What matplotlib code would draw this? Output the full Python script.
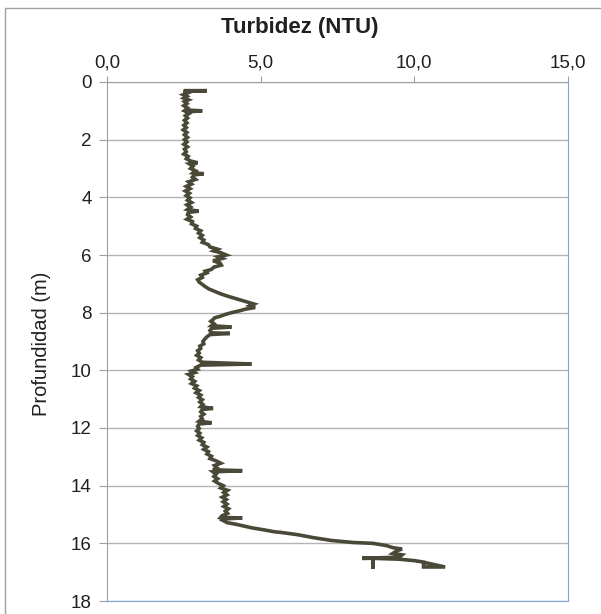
import matplotlib
matplotlib.use("Agg")
import matplotlib.pyplot as plt
from matplotlib.ticker import FuncFormatter
from matplotlib.patches import Rectangle

# perfil de turbidez (profundidad en m, turbidez en NTU)
profundidad = [0.30, 0.30, 0.33, 0.38, 0.44, 0.50, 0.56, 0.62, 0.68, 0.75, 0.82, 0.90, 0.97, 1.00,
               1.04, 1.10, 1.17, 1.25, 1.33, 1.42, 1.50, 1.58, 1.66, 1.75, 1.83, 1.92, 2.00, 2.08,
               2.16, 2.25, 2.33, 2.42, 2.50, 2.58, 2.66, 2.74, 2.80, 2.84, 2.92, 3.00, 3.08, 3.15,
               3.18, 3.22, 3.30, 3.38, 3.46, 3.54, 3.62, 3.70, 3.78, 3.86, 3.94, 4.02, 4.10, 4.18,
               4.26, 4.34, 4.42, 4.48, 4.52, 4.60, 4.68, 4.76, 4.84, 4.92, 5.00, 5.08, 5.16, 5.24,
               5.32, 5.40, 5.48, 5.56, 5.64, 5.72, 5.80, 5.86, 5.92, 6.00, 6.06, 6.12, 6.20, 6.28,
               6.35, 6.42, 6.50, 6.56, 6.62, 6.70, 6.78, 6.86, 6.94, 7.02, 7.10, 7.18, 7.26, 7.34,
               7.42, 7.50, 7.58, 7.64, 7.70, 7.76, 7.82, 7.88, 7.94, 8.00, 8.06, 8.12, 8.18, 8.24,
               8.30, 8.38, 8.45, 8.50, 8.54, 8.62, 8.70, 8.72, 8.76, 8.84, 8.92, 9.00, 9.08, 9.16,
               9.24, 9.32, 9.40, 9.48, 9.56, 9.64, 9.72, 9.78, 9.82, 9.90, 9.96, 10.02, 10.08, 10.14,
               10.22, 10.30, 10.38, 10.46, 10.54, 10.62, 10.70, 10.78, 10.86, 10.94, 11.02, 11.10,
               11.18, 11.26, 11.32, 11.36, 11.44, 11.52, 11.60, 11.68, 11.76, 11.82, 11.86, 11.94,
               12.02, 12.10, 12.18, 12.26, 12.34, 12.42, 12.50, 12.58, 12.66, 12.74, 12.82, 12.90,
               12.98, 13.06, 13.14, 13.22, 13.30, 13.38, 13.45, 13.48, 13.52, 13.60, 13.68, 13.76,
               13.84, 13.92, 14.00, 14.08, 14.16, 14.24, 14.32, 14.40, 14.48, 14.56, 14.64, 14.72,
               14.80, 14.88, 14.96, 15.04, 15.10, 15.12, 15.16, 15.22, 15.28, 15.34, 15.40, 15.46,
               15.55, 15.60, 15.62, 15.65, 15.70, 15.80, 15.90, 15.97, 16.00, 16.08, 16.15, 16.20,
               16.25, 16.35, 16.40, 16.48, 16.52, 16.52, 16.88, 16.52, 16.55, 16.60, 16.65, 16.82,
               16.82, 16.68]
turbidez = [2.55, 3.25, 2.50, 2.62, 2.48, 2.60, 2.50, 2.65, 2.52, 2.60, 2.50, 2.62, 2.55, 3.10,
            2.58, 2.66, 2.55, 2.62, 2.52, 2.60, 2.50, 2.58, 2.48, 2.60, 2.52, 2.62, 2.52, 2.60,
            2.50, 2.62, 2.52, 2.58, 2.50, 2.64, 2.58, 2.72, 2.95, 2.68, 2.80, 2.72, 2.88, 2.80,
            3.15, 2.85, 2.78, 2.88, 2.65, 2.75, 2.58, 2.70, 2.55, 2.68, 2.58, 2.70, 2.62, 2.75,
            2.60, 2.72, 2.62, 2.98, 2.65, 2.62, 2.72, 2.60, 2.78, 2.75, 2.92, 2.88, 3.05, 2.98,
            3.10, 3.02, 3.15, 3.10, 3.30, 3.35, 3.60, 3.48, 3.70, 3.88, 3.62, 3.75, 3.45, 3.68,
            3.72, 3.48, 3.40, 3.20, 3.25, 3.05, 3.10, 2.95, 3.00, 3.10, 3.20, 3.32, 3.50, 3.68,
            3.90, 4.15, 4.40, 4.60, 4.78, 4.65, 4.82, 4.50, 4.30, 4.05, 3.85, 3.70, 3.50, 3.45,
            3.38, 3.48, 3.40, 4.05, 3.42, 3.35, 3.40, 4.00, 3.35, 3.25, 3.18, 3.12, 3.15, 3.02,
            3.05, 2.95, 3.00, 2.92, 3.05, 2.98, 3.10, 4.70, 3.05, 2.90, 2.95, 2.75, 2.85, 2.65,
            2.78, 2.72, 2.85, 2.75, 2.92, 2.85, 3.00, 2.90, 3.05, 2.98, 3.10, 3.02,
            3.12, 3.05, 3.45, 3.10, 3.05, 3.15, 3.05, 3.10, 3.00, 3.40, 3.00, 2.95,
            3.00, 2.92, 3.02, 2.95, 3.08, 3.00, 3.15, 3.10, 3.25, 3.15, 3.30, 3.25,
            3.40, 3.35, 3.55, 3.70, 3.50, 3.58, 3.45, 4.40, 3.45, 3.55, 3.48, 3.60,
            3.50, 3.62, 3.78, 3.70, 3.92, 3.80, 3.90, 3.75, 3.88, 3.78, 3.90, 3.80,
            3.95, 3.85, 3.92, 3.75, 3.70, 4.40, 3.68, 3.80, 3.90, 4.20, 4.45, 4.70,
            5.20, 5.45, 5.65, 5.85, 6.20, 6.70, 7.30, 8.00, 8.65, 9.10, 9.30, 9.60,
            9.45, 9.30, 9.60, 9.50, 8.30, 8.65, 8.65, 8.65, 9.50, 10.00, 10.30, 10.30,
            11.00, 10.40]

x_ticks = [0, 5, 10, 15]
y_ticks = [0, 2, 4, 6, 8, 10, 12, 14, 16, 18]

plt.rcParams['font.family'] = ['Liberation Sans', 'DejaVu Sans']

fig = plt.figure(figsize=(6.01, 6.14), dpi=100)
ax = fig.add_axes([107/601, 1 - 601/614, (568-107)/601, (601-82)/614])

ax.plot(turbidez, profundidad, color='#4a4836', lw=2.6, solid_joinstyle='miter')

ax.set_xlim(0, 15)
ax.set_ylim(18, 0)
ax.set_xticks(x_ticks)
ax.set_yticks(y_ticks)
ax.xaxis.set_major_formatter(FuncFormatter(lambda v, p: ("%.1f" % v).replace(".", ",")))
ax.xaxis.tick_top()
ax.tick_params(axis='x', length=4.5, color='#a0a0a0', labelsize=13.5, pad=3, labelcolor='#202020')
ax.tick_params(axis='y', length=6, color='#a0a0a0', labelsize=13.5, pad=5, labelcolor='#202020')
ax.grid(axis='y', color='#b4b4b4', lw=1)
ax.set_axisbelow(True)

ax.spines['left'].set_color('#a0a0a0')
ax.spines['top'].set_color('#a0a0a0')
ax.spines['right'].set_color('#7fa3d6')
ax.spines['bottom'].set_color('#7fa3d6')

fig.text(300/601, 1 - 28/614, "Turbidez (NTU)", ha='center', va='center',
         fontsize=16, fontweight='bold', color='#202020')
fig.text(42/601, 1 - 344/614, "Profundidad (m)", ha='center', va='center', rotation=90,
         fontsize=14.5, color='#202020',
         family=['Liberation Sans Narrow', 'Liberation Sans', 'DejaVu Sans'])

# marco exterior
fig.patches.append(Rectangle((5/601, -0.1), 1.2, 1 - 8/614 + 0.1, transform=fig.transFigure,
                             fill=False, edgecolor='#a0a0a0', lw=1))

fig.savefig("out.png", dpi=100)
